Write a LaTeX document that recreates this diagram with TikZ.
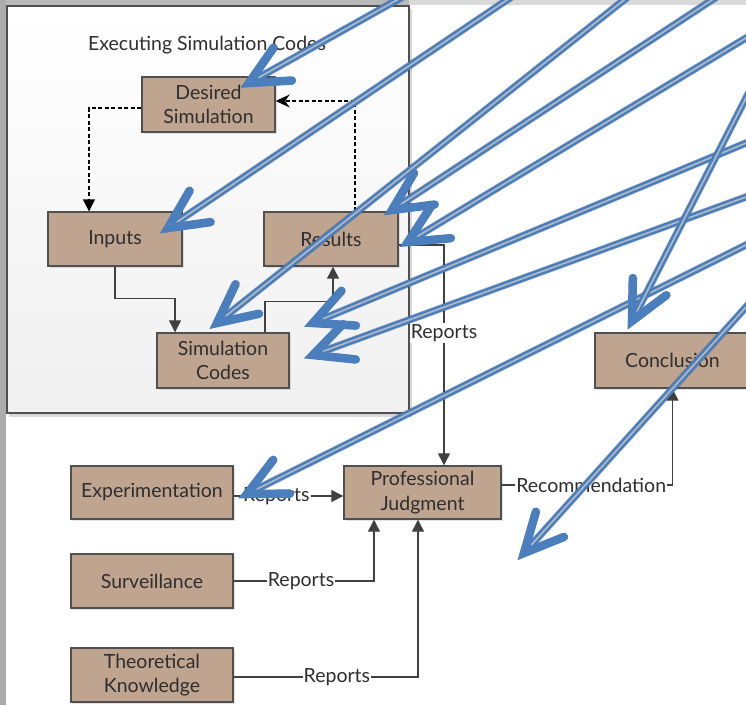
\documentclass[tikz,border=0pt]{standalone}
\usepackage{fontspec}
\setmainfont{Lato}
\usetikzlibrary{calc,arrows.meta,shadows}

\definecolor{boxfill}{HTML}{BFA48F}
\definecolor{boxedge}{HTML}{505050}
\definecolor{ink}{HTML}{2E2E2E}
\definecolor{wire}{HTML}{404040}
\definecolor{callout}{HTML}{4A7EBC}
\definecolor{calloutcore}{HTML}{B3BBC5}

\tikzset{
  txt/.style={font=\fontsize{19.5}{24.5}\selectfont, text=ink},
  stage/.style={txt, draw=boxedge, line width=1.4pt, fill=boxfill, align=center,
    inner sep=0pt, drop shadow={shadow xshift=1.5pt, shadow yshift=-2pt, opacity=0.22}},
  wireline/.style={draw=wire, line width=1.3pt, -{Triangle[length=12pt,width=12pt]}},
  dashline/.style={draw=black, line width=1.5pt, dash pattern=on 4pt off 2.5pt},
  tag/.style={txt, fill=white, inner sep=1pt},
  calloutline/.style={draw=callout, line width=2.6pt, double=calloutcore, double distance=1.6pt},
  callouthead/.style={draw=callout, line width=8.5pt, line cap=round, line join=miter},
  calloutshade/.style={draw=black, opacity=0.16, line width=8pt},
}

\begin{document}
\begin{tikzpicture}[x=1pt, y=-1pt]
  \useasboundingbox (0,0) rectangle (746,705);
  \clip (0,0) rectangle (746,705);

  % page edges
  \fill[white] (0,0) rectangle (746,705);
  \fill[gray!30] (0,0) rectangle (746,5);
  \fill[gray!55] (0,0) rectangle (409,5);
  \fill[gray!65] (0,0) rectangle (6,705);

  % enclosing panel
  \fill[black, opacity=0.15] (9,9) rectangle (412,417);
  \shade[top color=white, bottom color=gray!12] (7,6) rectangle (409,413);
  \draw[draw=boxedge, line width=1.4pt] (7,6) rectangle (409,413);
  \node[txt] (title) at (207,45) {Executing Simulation Codes};

  % blocks
  \node[stage, minimum width=133pt, minimum height=55pt] (des) at (208.5,104.5) {Desired\\Simulation};
  \node[stage, minimum width=134pt, minimum height=54pt] (inp) at (115,239) {Inputs};
  \node[stage, minimum width=134pt, minimum height=54pt] (res) at (331,239) {Results};
  \node[stage, minimum width=132pt, minimum height=55pt] (sim) at (223,360.5) {Simulation\\Codes};
  \node[stage, minimum width=155pt, minimum height=55pt] (con) at (672.5,360.5) {Conclusion};
  \node[stage, minimum width=162pt, minimum height=53pt] (exp) at (152,492.5) {Experimentation};
  \node[stage, minimum width=162pt, minimum height=54pt] (sur) at (152,581) {Surveillance};
  \node[stage, minimum width=162pt, minimum height=54pt] (the) at (152,675) {Theoretical\\Knowledge};
  \node[stage, minimum width=157pt, minimum height=53pt] (pj) at (422.5,492.5) {Professional\\Judgment};

  % feedback loop (dashed)
  \draw[dashline, -{Triangle[length=12pt,width=12pt]}] ([yshift=-3.5pt]des.west) -| ([xshift=-26pt]inp.north);
  \draw[dashline, -{Stealth[length=14pt,width=13pt]}] ([xshift=24pt]res.north) |- ([yshift=3.5pt]des.east);

  % execution flow
  \draw[wireline] (inp.south) -- ++(0,32) -| ([xshift=-48pt]sim.north);
  \draw[wireline] ([xshift=42pt]sim.north) -- ++(0,-31) -| ([xshift=2pt]res.south);

  % reports into judgment
  \draw[wireline] ([yshift=-6pt]res.east) -| node[tag, pos=0.7] (rep1) {Reports} ([xshift=21.5pt]pj.north);
  \draw[wireline] ([yshift=-3.5pt]exp.east) -- node[tag, pos=0.39] (rep2) {Reports} ([yshift=-3.5pt]pj.west);
  \draw[wireline] (sur.east) -| node[tag, pos=0.24] (rep3) {Reports} ([xshift=-48.5pt]pj.south);
  \draw[wireline] ([yshift=-2pt]the.east) -| node[tag, pos=0.28] (rep4) {Reports} ([xshift=-4.5pt]pj.south);
  \draw[wireline] ([yshift=7.5pt]pj.east) -| node[tag, pos=0.262] (rec) {Recommendation} (con.south);

  % blue call-out arrows: tip / point on the way out
  \foreach \tx/\ty/\ex/\ey [count=\i] in {
      249/83/397/0, 168/228/507/0, 217/323/624/0, 392/210/712/0,
      408/242/746/38, 313/323/746/143, 313/355/746/197, 247/494/746/245,
      632/321/746/98, 524/553/746/307} {
    \coordinate (tip\i) at (\tx,\ty);
    \coordinate (far\i) at ($(\tx,\ty)!1.3!(\ex,\ey)$);
  }
  \begin{scope}[shift={(2,2.5)}]
    \foreach \i in {1,...,10} {
      \draw[calloutshade] (far\i) -- (tip\i);
      \draw[calloutshade, line cap=round] ($(tip\i)!43pt!26:(far\i)$) -- (tip\i) -- ($(tip\i)!43pt!-26:(far\i)$);
    }
  \end{scope}
  \foreach \i in {1,...,10} {
    \draw[calloutline] (far\i) -- ($(tip\i)!5pt!(far\i)$);
  }
  \foreach \i in {1,...,10} {
    \draw[callouthead] ($(tip\i)!43pt!26:(far\i)$) -- (tip\i) -- ($(tip\i)!43pt!-26:(far\i)$);
  }
\end{tikzpicture}
\end{document}
